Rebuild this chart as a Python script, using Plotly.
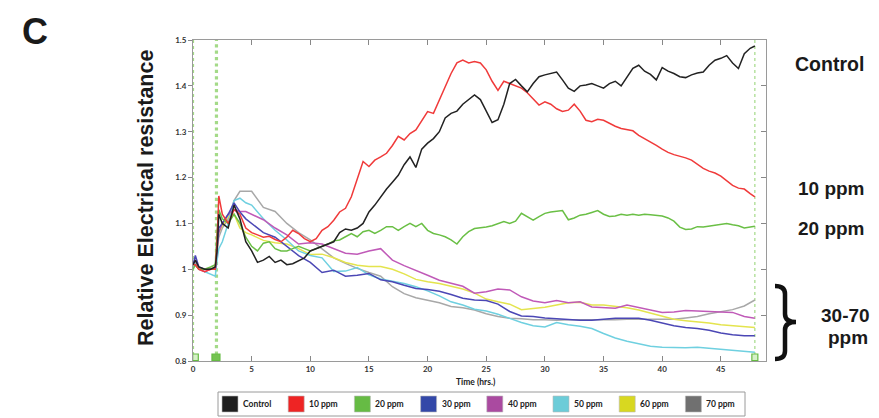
import plotly.graph_objects as go

# ---- sampling times (hours) ----
hours_fine = [0, 0.2, 0.5, 1.0, 1.5, 1.9, 2.05, 2.2, 2.5, 3.0, 3.5, 4.0, 4.5,
              5.0, 5.5, 6.0, 6.5, 7.0, 7.5, 8.0, 8.5, 9.0, 9.5,
              10.0, 10.5, 11.0, 11.5, 12.0, 12.5, 13.0, 13.5, 14.0, 14.5,
              15.0, 15.5, 16.0, 16.5, 17.0, 17.5, 18.0, 18.5, 19.0, 19.5,
              20.0, 20.5, 21.0, 21.5, 22.0, 22.5, 23.0, 23.5, 24.0, 24.5,
              25.0, 25.5, 26.0, 26.5, 27.0, 27.5, 28.0, 28.5, 29.0, 29.5,
              30.0, 30.5, 31.0, 31.5, 32.0, 32.5, 33.0, 33.5, 34.0, 34.5,
              35.0, 35.5, 36.0, 36.5, 37.0, 37.5, 38.0, 38.5, 39.0, 39.5,
              40.0, 40.5, 41.0, 41.5, 42.0, 42.5, 43.0, 43.5, 44.0, 44.5,
              45.0, 45.5, 46.0, 46.5, 47.0, 47.5, 47.9]

hours_coarse = [0, 0.2, 0.5, 1.0, 1.5, 1.9, 2.05, 2.2, 2.5, 3.0, 3.5, 4.0, 4.5,
                5, 6, 7, 8, 9, 10, 11, 12, 13, 14,
                15, 16, 17, 18, 19, 20, 21, 22, 23, 24,
                25, 26, 27, 28, 29, 30, 31, 32, 33, 34,
                35, 36, 37, 38, 39, 40, 41, 42, 43, 44,
                45, 46, 47, 47.9]

# ---- relative electrical resistance per treatment ----
control = [1.01, 1.02, 1.005, 1.0, 1.0, 1.005, 1.04, 1.12, 1.10, 1.09, 1.14, 1.11, 1.06,
           1.04, 1.015, 1.02, 1.028, 1.015, 1.02, 1.01, 1.012, 1.018, 1.025,
           1.04, 1.045, 1.05, 1.055, 1.06, 1.08, 1.088, 1.085, 1.09, 1.10,
           1.125, 1.14, 1.158, 1.175, 1.19, 1.205, 1.228, 1.245, 1.222, 1.262,
           1.275, 1.285, 1.30, 1.33, 1.34, 1.345, 1.36, 1.37, 1.38, 1.37,
           1.345, 1.32, 1.326, 1.36, 1.405, 1.414, 1.40, 1.387, 1.405, 1.42,
           1.424, 1.427, 1.43, 1.413, 1.395, 1.388, 1.40, 1.402, 1.405, 1.40,
           1.395, 1.405, 1.41, 1.40, 1.42, 1.438, 1.445, 1.432, 1.425, 1.413,
           1.44, 1.432, 1.427, 1.42, 1.418, 1.424, 1.428, 1.43, 1.445, 1.456,
           1.46, 1.466, 1.45, 1.438, 1.47, 1.482, 1.487]

ppm10 = [1.01, 1.01, 1.0, 0.995, 1.0, 1.0, 1.06, 1.16, 1.12, 1.10, 1.13, 1.12, 1.09,
         1.08, 1.075, 1.07, 1.072, 1.065, 1.06, 1.07, 1.085, 1.078, 1.067,
         1.06, 1.067, 1.085, 1.093, 1.107, 1.125, 1.133, 1.158, 1.195, 1.235,
         1.224, 1.238, 1.245, 1.253, 1.27, 1.29, 1.282, 1.296, 1.304, 1.325,
         1.344, 1.34, 1.37, 1.40, 1.427, 1.45, 1.456, 1.45, 1.453, 1.45,
         1.435, 1.41, 1.39, 1.41, 1.405, 1.40, 1.395, 1.385, 1.372, 1.358,
         1.365, 1.36, 1.35, 1.344, 1.347, 1.36, 1.345, 1.325, 1.322, 1.327,
         1.325, 1.318, 1.312, 1.307, 1.305, 1.302, 1.292, 1.285, 1.278, 1.27,
         1.262, 1.255, 1.25, 1.247, 1.243, 1.238, 1.228, 1.22, 1.214, 1.21,
         1.203, 1.192, 1.183, 1.177, 1.175, 1.165, 1.158]

ppm20 = [1.0, 1.01, 1.0, 1.0, 1.005, 1.01, 1.08, 1.13, 1.11, 1.10, 1.12, 1.10, 1.07,
         1.05, 1.04, 1.057, 1.06, 1.045, 1.04, 1.04, 1.045, 1.05, 1.045,
         1.04, 1.045, 1.05, 1.055, 1.062, 1.064, 1.071, 1.078, 1.071, 1.082,
         1.085, 1.078, 1.085, 1.093, 1.093, 1.085, 1.093, 1.10, 1.093, 1.10,
         1.085, 1.078, 1.075, 1.071, 1.064, 1.055, 1.071, 1.082, 1.089, 1.09,
         1.092, 1.095, 1.10, 1.104, 1.10, 1.105, 1.122, 1.115, 1.107, 1.115,
         1.122, 1.125, 1.127, 1.128, 1.108, 1.112, 1.118, 1.12, 1.124, 1.128,
         1.12, 1.115, 1.116, 1.12, 1.118, 1.12, 1.118, 1.12, 1.119, 1.118,
         1.116, 1.112, 1.105, 1.092, 1.087, 1.088, 1.093, 1.092, 1.094, 1.097,
         1.099, 1.10, 1.097, 1.095, 1.09, 1.093, 1.094]

ppm30 = [1.01, 1.03, 1.005, 1.0, 1.0, 1.0, 1.05, 1.09, 1.10, 1.12, 1.145, 1.125, 1.11,
         1.10, 1.08, 1.07, 1.05, 1.03, 1.015, 0.993, 0.998, 0.985, 0.987,
         0.991, 0.977, 0.973, 0.965, 0.958, 0.956, 0.952, 0.945, 0.937, 0.933,
         0.932, 0.924, 0.908, 0.898, 0.897, 0.894, 0.892, 0.89, 0.889, 0.889,
         0.891, 0.893, 0.893, 0.893, 0.889, 0.883, 0.877, 0.873, 0.871, 0.867,
         0.861, 0.857, 0.855, 0.855]

ppm40 = [1.01, 1.02, 1.0, 0.995, 1.0, 1.0, 1.04, 1.08, 1.10, 1.12, 1.13, 1.126, 1.126,
         1.12, 1.108, 1.09, 1.075, 1.055, 1.058, 1.055, 1.045, 1.035, 1.033,
         1.04, 1.045, 1.02, 1.008, 0.998, 0.987, 0.976, 0.97, 0.963, 0.948,
         0.951, 0.957, 0.955, 0.94, 0.931, 0.927, 0.932, 0.927, 0.929, 0.918,
         0.917, 0.915, 0.922, 0.917, 0.911, 0.906, 0.907, 0.91, 0.909, 0.908,
         0.908, 0.906, 0.897, 0.893]

ppm50 = [1.0, 1.02, 1.0, 0.995, 0.99, 0.985, 1.02, 1.045, 1.06, 1.10, 1.15, 1.155, 1.145,
         1.14, 1.11, 1.085, 1.064, 1.04, 1.03, 1.025, 0.995, 0.996, 1.004,
         0.988, 0.979, 0.974, 0.969, 0.962, 0.953, 0.942, 0.929, 0.922, 0.913,
         0.909, 0.902, 0.893, 0.884, 0.877, 0.874, 0.884, 0.879, 0.876, 0.871,
         0.86, 0.85, 0.843, 0.837, 0.832, 0.83, 0.829, 0.829, 0.83, 0.828,
         0.826, 0.824, 0.821, 0.819]

ppm60 = [1.005, 1.01, 1.0, 1.0, 1.0, 1.005, 1.05, 1.08, 1.095, 1.115, 1.12, 1.09, 1.08,
         1.075, 1.063, 1.058, 1.055, 1.045, 1.032, 1.033, 1.025, 1.015, 1.009,
         1.006, 1.006, 1.0, 0.99, 0.978, 0.973, 0.969, 0.963, 0.957, 0.948,
         0.935, 0.929, 0.924, 0.912, 0.914, 0.917, 0.922, 0.927, 0.928, 0.922,
         0.922, 0.919, 0.916, 0.911, 0.904, 0.897, 0.891, 0.888, 0.886, 0.883,
         0.879, 0.877, 0.874, 0.873]

ppm70 = [1.005, 1.01, 1.0, 1.0, 1.0, 1.0, 1.04, 1.07, 1.09, 1.11, 1.15, 1.17, 1.17,
         1.17, 1.135, 1.126, 1.10, 1.08, 1.064, 1.045, 1.025, 1.013, 1.002,
         0.993, 0.985, 0.962, 0.947, 0.938, 0.932, 0.927, 0.919, 0.916, 0.911,
         0.903, 0.897, 0.893, 0.892, 0.89, 0.89, 0.889, 0.89, 0.89, 0.889,
         0.889, 0.89, 0.891, 0.891, 0.89, 0.89, 0.891, 0.894, 0.897, 0.903,
         0.908, 0.912, 0.92, 0.933]

series_names = ["Control", "10 ppm", "20 ppm", "30 ppm", "40 ppm", "50 ppm", "60 ppm", "70 ppm"]
series_values = [control, ppm10, ppm20, ppm30, ppm40, ppm50, ppm60, ppm70]
series_hours = [hours_fine, hours_fine, hours_fine, hours_coarse, hours_coarse,
                hours_coarse, hours_coarse, hours_coarse]
line_colors = ["#222222", "#f03a3a", "#6abf45", "#4b47b5", "#c05ab8", "#6fd0e0", "#e4e44e", "#a8a8a8"]
swatch_colors = ["#1e1e1e", "#ee2424", "#66bb44", "#3348a8", "#aa4aa0", "#6cccd8", "#d8d820", "#707070"]

# event markers (hours) drawn as dotted verticals
event_hours = [0, 2.0, 47.9]

x_ticks = [0, 5, 10, 15, 20, 25, 30, 35, 40, 45]
y_ticks = [0.8, 0.9, 1.0, 1.1, 1.2, 1.3, 1.4, 1.5]

# ---- layout geometry ----
W, H = 879, 418
ML, MR, MT, MB = 193, 113, 40, 57
PW, PH = W - ML - MR, H - MT - MB


def fx(px):
    return (px - ML) / PW


def fy(py):
    return (H - MB - py) / PH


fig = go.Figure()

# draw the 30-70 ppm group first, then 20, 10 and control on top
for i in reversed(range(len(series_names))):
    fig.add_trace(go.Scatter(
        x=series_hours[i], y=series_values[i], mode="lines", name=series_names[i],
        line=dict(color=line_colors[i], width=1.5), showlegend=False,
    ))

# companion axis carrying the inward ticks on the right edge
fig.add_trace(go.Scatter(x=[], y=[], yaxis="y2", showlegend=False))

shapes = []
widths = [2.2, 3.2, 1.2]
for h, w in zip(event_hours, widths):
    shapes.append(dict(type="line", xref="x", yref="paper", x0=h, x1=h, y0=0, y1=1,
                       line=dict(color="#a4da88", width=w, dash="dot"), layer="below"))
# small markers sitting on the time axis at each event
marker_boxes = [(-0.3, 5.3, "#d6f0c8"), (-4.5, 3.5, "#74c450"), (-3, 3, "#d6f0c8")]
for h, (a, b, fill) in zip(event_hours, marker_boxes):
    shapes.append(dict(type="rect", xref="x", yref="y", xsizemode="pixel", ysizemode="pixel",
                       xanchor=h, yanchor=0.8, x0=a, x1=b, y0=0.5, y1=7,
                       fillcolor=fill, line=dict(color="#66bb44", width=1.2)))

# legend frame, swatches and labels
leg_left, leg_right, leg_top, leg_bot = 218, 745, 392, 416
shapes.append(dict(type="rect", xref="paper", yref="paper",
                   x0=fx(leg_left), x1=fx(leg_right), y0=fy(leg_bot), y1=fy(leg_top),
                   line=dict(color="#9a9a9a", width=1), fillcolor="white"))
annotations = []
step = 66.2
for i, name in enumerate(series_names):
    sx = 222 + i * step
    shapes.append(dict(type="rect", xref="paper", yref="paper",
                       x0=fx(sx), x1=fx(sx + 16), y0=fy(412), y1=fy(396),
                       fillcolor=swatch_colors[i], line=dict(color="#bbbbbb", width=0.6)))
    annotations.append(dict(text=name, xref="paper", yref="paper", x=fx(sx + 19), y=fy(404),
                            xanchor="left", yanchor="middle", showarrow=False,
                            font=dict(family="Lato", size=8.5, color="#222", weight="bold")))

# curly brace grouping the 30-70 ppm curves
p = lambda x, y: f"{fx(x):.5f},{fy(y):.5f}"
brace = (f"M {p(775, 286)} Q {p(785, 286)} {p(785, 294)} L {p(785, 314)} "
         f"Q {p(785, 322)} {p(796, 322)} Q {p(785, 322)} {p(785, 330)} "
         f"L {p(785, 351)} Q {p(785, 359)} {p(775, 359)}")
shapes.append(dict(type="path", xref="paper", yref="paper", path=brace,
                   line=dict(color="#111", width=4.5)))

big = dict(family="Liberation Sans, Arial", color="#1a1a1a", weight="bold")
annotations += [
    dict(text="C", x=fx(35), y=fy(31), font=dict(size=36, **big)),
    dict(text="Relative Electrical resistance", x=fx(146), y=fy(198), textangle=-90,
         font=dict(size=21.5, **big)),
    dict(text="Control", x=fx(829), y=fy(64), font=dict(size=19.5, **big)),
    dict(text="10 ppm", x=fx(831), y=fy(188), font=dict(size=19, **big)),
    dict(text="20 ppm", x=fx(831), y=fy(228), font=dict(size=19, **big)),
    dict(text="30-70", x=fx(845), y=fy(315), font=dict(size=19, **big)),
    dict(text="ppm", x=fx(848), y=fy(337), font=dict(size=19, **big)),
    dict(text="Time (hrs.)", x=fx(476), y=fy(382),
         font=dict(family="Lato", size=8.5, color="#222", weight="bold")),
]
for a in annotations[-8:]:
    a.update(xref="paper", yref="paper", xanchor="center", yanchor="middle", showarrow=False)

tick_font = dict(family="Lato", size=8, color="#333", weight="bold")
fig.update_layout(
    width=W, height=H, margin=dict(l=ML, r=MR, t=MT, b=MB),
    paper_bgcolor="white", plot_bgcolor="white",
    xaxis=dict(range=[0, 48.85], tickvals=x_ticks, ticks="inside", ticklen=5,
               tickcolor="#888", showline=True, linecolor="#9a9a9a", linewidth=1,
               mirror="ticks", showgrid=False, zeroline=False, tickfont=tick_font),
    yaxis=dict(range=[0.8, 1.5], tickvals=y_ticks, ticks="outside", ticklen=4,
               tickcolor="#888", showline=True, linecolor="#9a9a9a", linewidth=1,
               mirror=True, showgrid=False, zeroline=False, tickfont=tick_font),
    yaxis2=dict(range=[0.8, 1.5], tickvals=y_ticks, overlaying="y", side="right",
                ticks="inside", ticklen=5, tickcolor="#888", showticklabels=False,
                showgrid=False, zeroline=False, showline=False),
    shapes=shapes, annotations=annotations, showlegend=False,
)

fig.write_html("out.html")
